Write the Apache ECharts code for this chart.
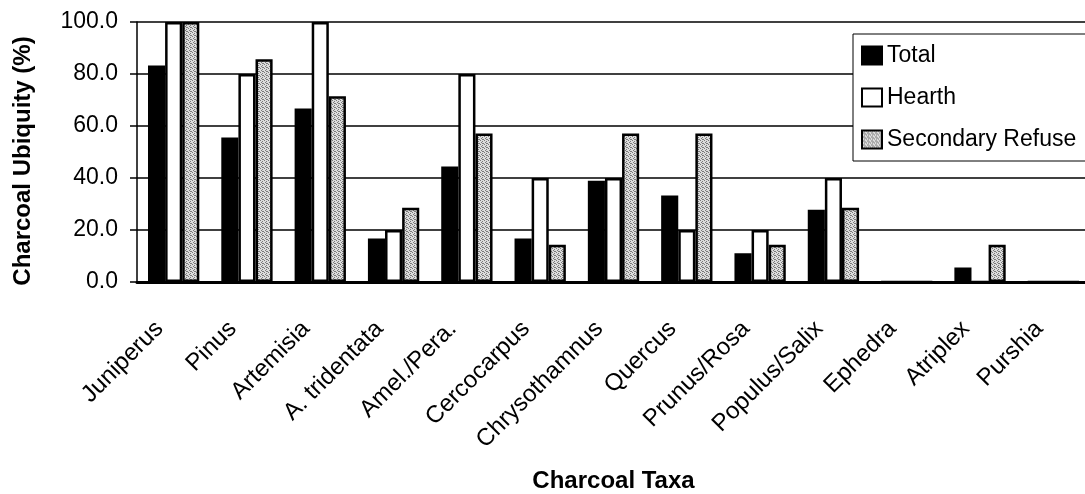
<!DOCTYPE html>
<html>
<head>
<meta charset="utf-8">
<script src="https://cdn.jsdelivr.net/npm/echarts@6/dist/echarts.min.js"></script>
<style>
  html, body { margin: 0; padding: 0; background: #fff; }
  #chart { width: 1085px; height: 494px; }
</style>
</head>
<body>
<div id="chart"></div>
<script>
// Charcoal ubiquity (%) by taxon and context
const categories = ['Juniperus', 'Pinus', 'Artemisia', 'A. tridentata', 'Amel./Pera.', 'Cercocarpus',
  'Chrysothamnus', 'Quercus', 'Prunus/Rosa', 'Populus/Salix', 'Ephedra', 'Atriplex', 'Purshia'];
const totalValues     = [83.3, 55.6, 66.7, 16.7, 44.4, 16.7, 38.9, 33.3, 11.1, 27.8, 0, 5.6, 0];
const hearthValues    = [100, 80, 100, 20, 80, 40, 40, 20, 20, 40, 0, 0, 0];
const secondaryValues = [100, 85.7, 71.4, 28.6, 57.1, 14.3, 57.1, 57.1, 14.3, 28.6, 0, 14.3, 0];
const yTicks = [0, 20, 40, 60, 80, 100];

const FONT = '"Liberation Sans", Arial, Helvetica, sans-serif';

// Stippled grey fill used for the secondary refuse bars
function stipple() {
  const c = document.createElement('canvas');
  c.width = 4; c.height = 4;
  const g = c.getContext('2d');
  g.fillStyle = '#dcdcdc';
  g.fillRect(0, 0, 4, 4);
  g.fillStyle = '#7a7a7a';
  [[0, 0], [2, 1], [1, 2], [3, 3], [2, 3]].forEach(([x, y]) => g.fillRect(x, y, 1, 1));
  return { image: c, repeat: 'repeat' };
}

const chart = echarts.init(document.getElementById('chart'), null, { renderer: 'canvas' });

const barBorder = { borderColor: '#000', borderWidth: 2.5 };

chart.setOption({
  backgroundColor: '#fff',
  animation: false,
  textStyle: { fontFamily: FONT, color: '#000' },
  grid: { left: 137, right: -5, top: 22, bottom: 212, containLabel: false, outerBoundsMode: 'none' },
  legend: {
    orient: 'vertical',
    left: 853,
    top: 34,
    padding: [10, 220, 10, 8],
    icon: 'rect',
    itemWidth: 20,
    itemHeight: 18,
    itemGap: 19,
    backgroundColor: '#fff',
    borderColor: '#000',
    borderWidth: 1,
    textStyle: { fontFamily: FONT, fontSize: 23, color: '#000' },
    data: ['Total', 'Hearth', 'Secondary Refuse']
  },
  xAxis: {
    type: 'category',
    data: categories,
    z: 5,
    name: 'Charcoal Taxa',
    nameLocation: 'middle',
    nameGap: 187,
    nameTextStyle: { fontFamily: FONT, fontSize: 24, fontWeight: 'bold', color: '#000' },
    axisLine: { lineStyle: { color: '#000', width: 3 } },
    axisTick: { show: false },
    axisLabel: {
      rotate: 45,
      margin: 29,
      padding: [0, 20, 0, 0],
      interval: 0,
      fontFamily: FONT,
      fontSize: 24,
      color: '#000'
    }
  },
  yAxis: {
    type: 'value',
    min: yTicks[0],
    max: yTicks[yTicks.length - 1],
    interval: 20,
    name: 'Charcoal Ubiquity (%)',
    nameLocation: 'middle',
    nameGap: 102,
    nameTextStyle: { fontFamily: FONT, fontSize: 24, fontWeight: 'bold', color: '#000', padding: [0, 18, 0, 0] },
    axisLine: { show: true, lineStyle: { color: '#000', width: 1.5 } },
    axisTick: { show: true, length: 7, lineStyle: { color: '#000', width: 1.5 } },
    axisLabel: {
      margin: 19,
      fontFamily: FONT,
      fontSize: 23,
      color: '#000',
      formatter: v => v.toFixed(1)
    },
    splitLine: { show: true, lineStyle: { color: '#000', width: 1.5 } }
  },
  series: [
    {
      name: 'Total', type: 'bar', data: totalValues,
      barGap: '0%', barCategoryGap: '30%',
      itemStyle: Object.assign({ color: '#000' }, barBorder)
    },
    {
      name: 'Hearth', type: 'bar', data: hearthValues,
      barGap: '0%', barCategoryGap: '30%',
      itemStyle: Object.assign({ color: '#fff' }, barBorder)
    },
    {
      name: 'Secondary Refuse', type: 'bar', data: secondaryValues,
      barGap: '0%', barCategoryGap: '30%',
      itemStyle: Object.assign({ color: stipple() }, barBorder)
    }
  ]
});
</script>
</body>
</html>
